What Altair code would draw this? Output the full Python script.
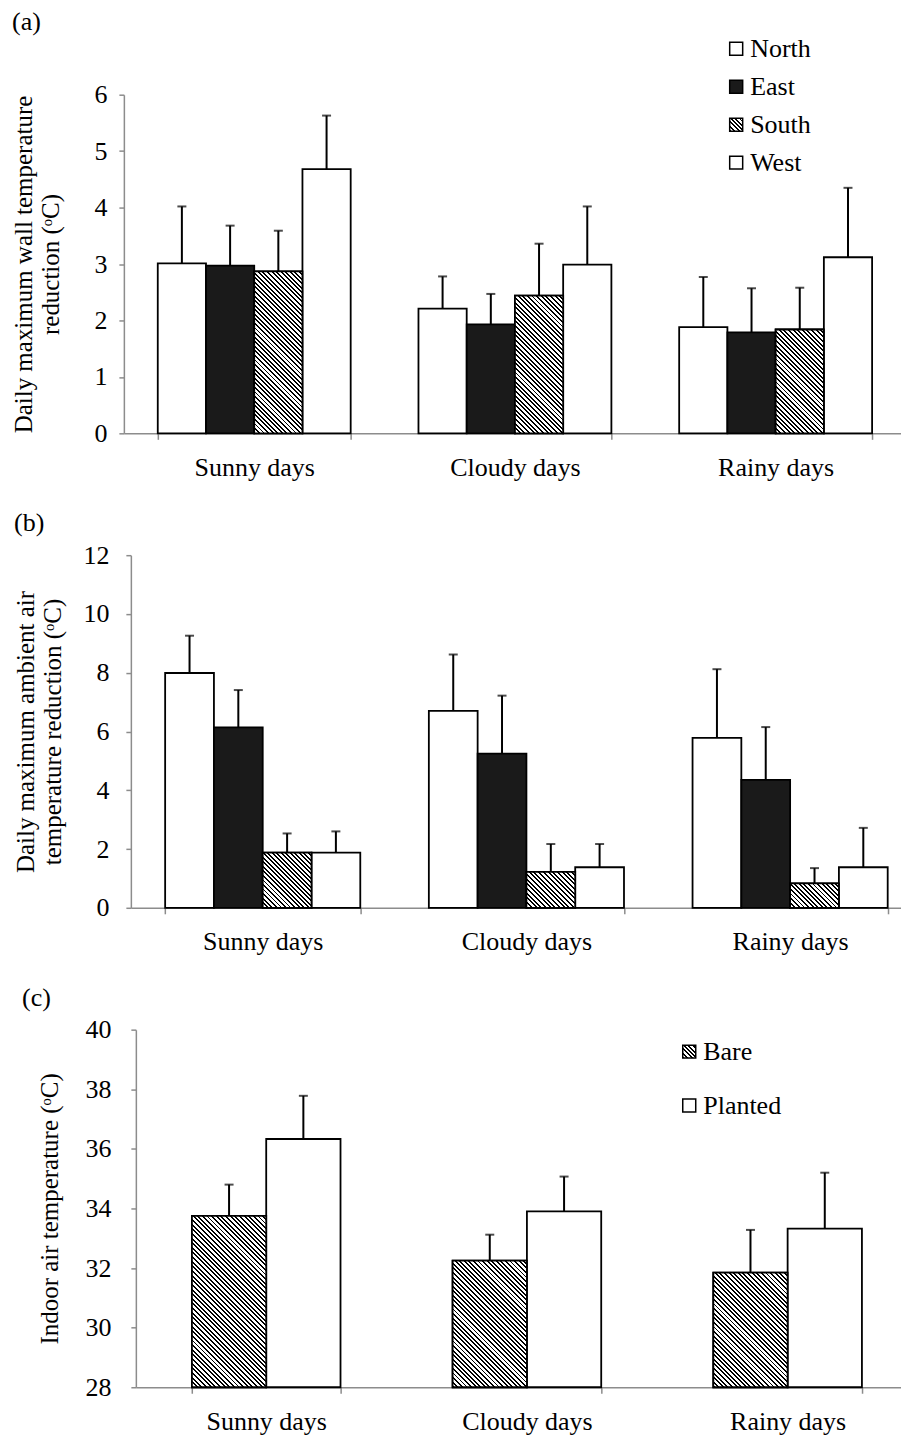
import json
import altair as alt

FONT = "Liberation Serif, DejaVu Serif, serif"

# ---------------- data ----------------
cats = ["Sunny days", "Cloudy days", "Rainy days"]

series_a = ["North", "East", "South", "West"]
a_north = [3.01, 2.21, 1.88]
a_east = [2.97, 1.93, 1.79]
a_south = [2.87, 2.44, 1.84]
a_west = [4.68, 2.99, 3.12]
a_north_err = [1.01, 0.57, 0.89]
a_east_err = [0.71, 0.54, 0.78]
a_south_err = [0.72, 0.92, 0.74]
a_west_err = [0.95, 1.03, 1.23]

b_north = [7.99, 6.70, 5.78]
b_east = [6.14, 5.25, 4.35]
b_south = [1.88, 1.22, 0.83]
b_west = [1.88, 1.38, 1.38]
b_north_err = [1.27, 1.92, 2.34]
b_east_err = [1.27, 1.97, 1.80]
b_south_err = [0.65, 0.95, 0.52]
b_west_err = [0.72, 0.79, 1.34]

series_c = ["Bare", "Planted"]
c_bare = [33.75, 32.25, 31.85]
c_planted = [36.33, 33.90, 33.32]
c_bare_err = [1.05, 0.87, 1.43]
c_planted_err = [1.45, 1.17, 1.88]

W = 783


def hatch(w, h, period=4.6, black=0.42):
    n = max(1, int(round((w + h) / period)))
    s = (w + h) / (w * w + h * h)
    stops = []
    for k in range(n):
        a = round(k / n, 5)
        b = round((k + black) / n, 5)
        c = round((k + 1) / n, 5)
        stops += [
            {"offset": a, "color": "#000000"},
            {"offset": b, "color": "#000000"},
            {"offset": b, "color": "#ffffff"},
            {"offset": c, "color": "#ffffff"},
        ]
    return {"gradient": "linear", "x1": 0, "y1": 1,
            "x2": round(w * s, 5), "y2": round(1 - h * s, 5), "stops": stops}


legend_hatch = alt.ExprRef(expr=json.dumps(hatch(13, 13, period=4.6)))


def panel(series, values, errs, fills, hatched, domain, yvals, height,
          pad_inner, shift, step, title, title_offset, title_dx,
          ytitle, ytitle_pad, ylabel_pad, legend):
    recs = []
    hrecs = []
    nser = len(series)
    bw = step * (1 - pad_inner) / nser
    for si, s in enumerate(series):
        for ci, c in enumerate(cats):
            v = values[si][ci]
            e = errs[si][ci]
            recs.append({"cat": c, "series": s, "value": v, "top": v + e})
            if s in hatched:
                h = (v - domain[0]) / (domain[1] - domain[0]) * height
                hrecs.append({"cat": c, "series": s, "value": v,
                              "grad": hatch(bw, h)})
    data = alt.Data(values=recs)
    hdata = alt.Data(values=hrecs)

    x = alt.X("cat:N", title=None,
              scale=alt.Scale(domain=cats, range=[shift, shift + 3 * step],
                              paddingInner=pad_inner,
                              paddingOuter=pad_inner / 2),
              axis=alt.Axis(labelAngle=0, tickBand="extent", tickSize=6,
                            labelPadding=15, labelFontSize=26))
    xo = alt.XOffset("series:N", scale=alt.Scale(domain=series,
                                                 paddingInner=0,
                                                 paddingOuter=0))
    y = alt.Y("value:Q", title=ytitle,
              scale=alt.Scale(domain=domain, nice=False, zero=False),
              axis=alt.Axis(values=yvals, format="d", tickSize=5,
                            labelPadding=ylabel_pad, labelFontSize=26,
                            titleFontSize=25, offset=-shift,
                            titlePadding=ytitle_pad, titleLineHeight=27))
    base_y2 = alt.datum(domain[0])

    bars = alt.Chart(data).mark_bar(stroke="black", strokeWidth=1.8).encode(
        x=x, xOffset=xo, y=y, y2=base_y2,
        fill=alt.Fill("series:N",
                      scale=alt.Scale(domain=series, range=fills),
                      legend=legend),
    )
    hbars = alt.Chart(hdata).mark_bar(stroke="black", strokeWidth=1.8).encode(
        x=x, xOffset=xo, y=y, y2=base_y2,
        fill=alt.Fill("grad:N", scale=None, legend=None),
    )
    rules = alt.Chart(data).mark_rule(color="black", strokeWidth=2).encode(
        x=x, xOffset=xo, y=y, y2="top:Q")
    caps = alt.Chart(data).mark_tick(color="black", thickness=2, size=9).encode(
        x=x, xOffset=xo, y=alt.Y("top:Q"))

    return alt.layer(bars, hbars, rules, caps).properties(
        width=W, height=height,
        title=alt.TitleParams(text=title, anchor="start", frame="bounds",
                              font=FONT, fontSize=26, fontWeight="normal",
                              color="black", offset=title_offset,
                              dx=title_dx),
    )


def mk_legend(lx, ly, rowpad):
    return alt.Legend(orient="none", legendX=lx, legendY=ly, title=None,
                      labelFont=FONT, labelFontSize=26, labelColor="black",
                      symbolType="square", symbolSize=169,
                      symbolStrokeColor="black", symbolStrokeWidth=1.5,
                      rowPadding=rowpad, labelOffset=1, labelLimit=0)


pa = panel(series_a,
           [a_north, a_east, a_south, a_west],
           [a_north_err, a_east_err, a_south_err, a_west_err],
           ["#ffffff", "#1a1a1a", legend_hatch, "#ffffff"], ["South"],
           [0, 6], [0, 1, 2, 3, 4, 5, 6], 339, 0.26, 0, 261, "(a)", 1, 0,
           ["Daily maximum wall temperature", "reduction (ᵒC)"], 30, 12,
           mk_legend(600, -59, 12))

pb = panel(series_a,
           [b_north, b_east, b_south, b_west],
           [b_north_err, b_east_err, b_south_err, b_west_err],
           ["#ffffff", "#1a1a1a", legend_hatch, "#ffffff"], ["South"],
           [0, 12], [0, 2, 4, 6, 8, 10, 12], 353, 0.26, 7, 264, "(b)", 6, 0,
           ["Daily maximum ambient air", "temperature reduction (ᵒC)"], 17, 17,
           None)

pc = panel(series_c,
           [c_bare, c_planted],
           [c_bare_err, c_planted_err],
           [legend_hatch, "#ffffff"], ["Bare"],
           [28, 40], [28, 30, 32, 34, 36, 38, 40], 358, 0.43, 12, 261, "(c)",
           6, -16,
           "Indoor air temperature (ᵒC)", 22, 20,
           mk_legend(553, 9, 28))

chart = alt.vconcat(pa, pb, pc, spacing=30).resolve_scale(
    fill="independent", xOffset="independent").resolve_legend(
    fill="independent").configure(font=FONT).configure_axis(
    labelFont=FONT, labelColor="black",
    titleFont=FONT, titleFontWeight="normal",
    titleColor="black", domainColor="#8c8c8c", domainWidth=1.5,
    tickColor="#8c8c8c", tickWidth=1.5, grid=False,
).configure_view(stroke=None).properties(
    padding={"left": 4, "top": 0, "right": -14, "bottom": 0})

chart.save("out.html", embed_options={"renderer": "svg", "actions": False})
